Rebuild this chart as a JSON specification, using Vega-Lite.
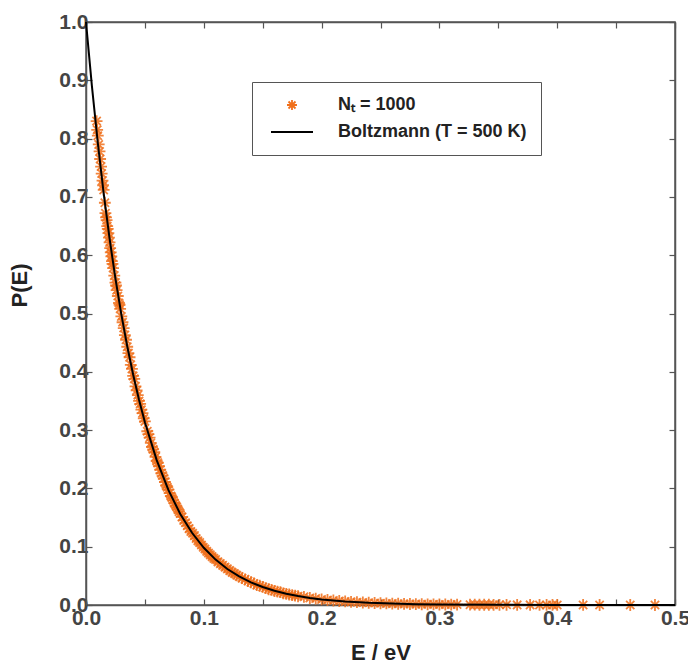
{
  "$schema": "https://vega.github.io/schema/vega-lite/v6.json",
  "autosize": {"type": "none"},
  "width": 589,
  "height": 583,
  "padding": {"left": 86, "top": 22, "right": 13, "bottom": 66},
  "background": "white",
  "config": {
    "view": {"stroke": "#555", "strokeWidth": 1.5},
    "font": "Liberation Sans",
    "axis": {"grid": false, "domainColor": "#555", "domainWidth": 1.5, "tickColor": "#555", "tickWidth": 1.2, "labelFont": "Liberation Sans", "labelFontSize": 21, "labelFontWeight": "bold", "labelColor": "#444", "titleFont": "Liberation Sans", "titleFontWeight": "bold", "titleColor": "#222", "titleFontSize": 22}
  },
  "datasets": {
    "pts": [
      {"E":0.0090,"P":0.830},{"E":0.0095,"P":0.815},{"E":0.0100,"P":0.805},{"E":0.0108,"P":0.790},{"E":0.0115,"P":0.778},{"E":0.0120,"P":0.765},{"E":0.0128,"P":0.752},{"E":0.0133,"P":0.740},{"E":0.0140,"P":0.728},{"E":0.0145,"P":0.720},{"E":0.0150,"P":0.712},{"E":0.0160,"P":0.690},{"E":0.0165,"P":0.672},{"E":0.0170,"P":0.665},{"E":0.0175,"P":0.660},{"E":0.0180,"P":0.650},{"E":0.0185,"P":0.645},{"E":0.0190,"P":0.638},{"E":0.0195,"P":0.630},{"E":0.0200,"P":0.622},{"E":0.0205,"P":0.612},{"E":0.0210,"P":0.605},{"E":0.0215,"P":0.598},{"E":0.0220,"P":0.590},{"E":0.0225,"P":0.585},{"E":0.0230,"P":0.578},{"E":0.0240,"P":0.565},{"E":0.0250,"P":0.553},{"E":0.0255,"P":0.548},{"E":0.0260,"P":0.540},{"E":0.0270,"P":0.530},{"E":0.0280,"P":0.518},{"E":0.0285,"P":0.515},{"E":0.0290,"P":0.508},{"E":0.0300,"P":0.495},{"E":0.0310,"P":0.485},{"E":0.0320,"P":0.475},{"E":0.0330,"P":0.463},{"E":0.0340,"P":0.455},{"E":0.0350,"P":0.443},{"E":0.0360,"P":0.432},{"E":0.0370,"P":0.425},{"E":0.0380,"P":0.412},{"E":0.0390,"P":0.405},{"E":0.0400,"P":0.393},{"E":0.0410,"P":0.388},{"E":0.0420,"P":0.375},{"E":0.0430,"P":0.368},{"E":0.0440,"P":0.360},{"E":0.0450,"P":0.350},{"E":0.0460,"P":0.345},{"E":0.0470,"P":0.335},{"E":0.0480,"P":0.329},{"E":0.0490,"P":0.320},{"E":0.0500,"P":0.315},
      {"E":0.052,"P":0.298},{"E":0.053,"P":0.293},{"E":0.054,"P":0.287},{"E":0.055,"P":0.278},{"E":0.056,"P":0.271},{"E":0.057,"P":0.267},{"E":0.058,"P":0.262},{"E":0.059,"P":0.254},{"E":0.060,"P":0.247},{"E":0.061,"P":0.244},{"E":0.062,"P":0.238},{"E":0.063,"P":0.232},{"E":0.064,"P":0.226},{"E":0.065,"P":0.222},{"E":0.066,"P":0.217},{"E":0.067,"P":0.211},{"E":0.068,"P":0.205},{"E":0.069,"P":0.202},{"E":0.070,"P":0.198},{"E":0.071,"P":0.192},{"E":0.072,"P":0.187},{"E":0.073,"P":0.184},{"E":0.074,"P":0.180},{"E":0.075,"P":0.175},{"E":0.076,"P":0.171},{"E":0.077,"P":0.168},{"E":0.078,"P":0.164},{"E":0.079,"P":0.160},{"E":0.080,"P":0.157},{"E":0.0815,"P":0.151},{"E":0.083,"P":0.145},{"E":0.0845,"P":0.141},{"E":0.086,"P":0.136},{"E":0.0875,"P":0.131},{"E":0.089,"P":0.126},{"E":0.0905,"P":0.123},{"E":0.092,"P":0.119},{"E":0.0935,"P":0.114},{"E":0.095,"P":0.110},{"E":0.0965,"P":0.107},{"E":0.098,"P":0.103},{"E":0.0995,"P":0.099},{"E":0.101,"P":0.096},{"E":0.1025,"P":0.092},{"E":0.104,"P":0.089},{"E":0.1055,"P":0.086},{"E":0.107,"P":0.083},{"E":0.1085,"P":0.080},{"E":0.110,"P":0.078},{"E":0.112,"P":0.074},{"E":0.114,"P":0.071},{"E":0.116,"P":0.068},{"E":0.118,"P":0.065},{"E":0.120,"P":0.062},{"E":0.122,"P":0.059},{"E":0.124,"P":0.056},{"E":0.126,"P":0.054},{"E":0.128,"P":0.051},{"E":0.130,"P":0.049},{"E":0.1325,"P":0.046},{"E":0.135,"P":0.044},{"E":0.1375,"P":0.041},{"E":0.140,"P":0.039},{"E":0.1425,"P":0.037},{"E":0.145,"P":0.034},{"E":0.1475,"P":0.033},{"E":0.150,"P":0.031},{"E":0.1525,"P":0.029},{"E":0.155,"P":0.027},{"E":0.1575,"P":0.026},{"E":0.160,"P":0.024},{"E":0.1625,"P":0.023},{"E":0.165,"P":0.022},{"E":0.1675,"P":0.020},{"E":0.170,"P":0.019},{"E":0.1725,"P":0.018},{"E":0.175,"P":0.017},{"E":0.1775,"P":0.016},{"E":0.180,"P":0.015},{"E":0.185,"P":0.014},{"E":0.190,"P":0.012},{"E":0.195,"P":0.011},{"E":0.200,"P":0.0096},
      {"E":0.205,"P":0.0086},{"E":0.210,"P":0.0077},{"E":0.215,"P":0.0068},{"E":0.220,"P":0.0061},{"E":0.225,"P":0.0054},{"E":0.230,"P":0.0048},{"E":0.235,"P":0.0043},{"E":0.240,"P":0.0038},{"E":0.245,"P":0.0034},{"E":0.250,"P":0.0030},{"E":0.255,"P":0.0027},{"E":0.260,"P":0.0024},{"E":0.265,"P":0.0021},{"E":0.270,"P":0.0019},{"E":0.275,"P":0.0017},{"E":0.280,"P":0.0015},{"E":0.285,"P":0.0013},{"E":0.290,"P":0.0012},{"E":0.295,"P":0.0011},{"E":0.300,"P":0.0009},{"E":0.305,"P":0.0008},{"E":0.310,"P":0.0007},{"E":0.315,"P":0.0007},{"E":0.326,"P":0.0005},{"E":0.330,"P":0.0005},{"E":0.334,"P":0.0004},{"E":0.338,"P":0.0004},{"E":0.342,"P":0.0004},{"E":0.346,"P":0.0003},{"E":0.351,"P":0.0003},{"E":0.357,"P":0.0003},{"E":0.366,"P":0.0002},{"E":0.377,"P":0.0002},{"E":0.385,"P":0.0001},{"E":0.391,"P":0.0001},{"E":0.396,"P":0.0001},{"E":0.400,"P":0.0001},{"E":0.422,"P":0.0001},{"E":0.436,"P":0.0000},{"E":0.462,"P":0.0000},{"E":0.483,"P":0.0000}
    ],
    "curve": [
      {"E":0,"P":1},{"E":0.005,"P":0.8904},{"E":0.01,"P":0.7929},{"E":0.015,"P":0.7060},{"E":0.02,"P":0.6287},{"E":0.025,"P":0.5598},{"E":0.03,"P":0.4985},{"E":0.035,"P":0.4439},{"E":0.04,"P":0.3953},{"E":0.045,"P":0.3519},{"E":0.05,"P":0.3134},{"E":0.06,"P":0.2485},{"E":0.07,"P":0.1970},{"E":0.08,"P":0.1562},{"E":0.09,"P":0.1239},{"E":0.1,"P":0.0982},{"E":0.11,"P":0.0779},{"E":0.12,"P":0.0617},{"E":0.13,"P":0.0490},{"E":0.14,"P":0.0388},{"E":0.15,"P":0.0308},{"E":0.16,"P":0.0244},{"E":0.17,"P":0.0193},{"E":0.18,"P":0.0153},{"E":0.19,"P":0.0122},{"E":0.2,"P":0.0096},{"E":0.22,"P":0.0061},{"E":0.24,"P":0.0038},{"E":0.26,"P":0.0024},{"E":0.28,"P":0.0015},{"E":0.3,"P":0.00095},{"E":0.35,"P":0.0003},{"E":0.4,"P":0.0001},{"E":0.45,"P":0.00003},{"E":0.5,"P":0.00001}
    ]
  },
  "layer": [
    {
      "data": {"name": "pts"},
      "mark": {"type": "point", "filled": false, "shape": "M0,-1L0,1M-1,0L1,0M-0.7,-0.7L0.7,0.7M-0.7,0.7L0.7,-0.7", "size": 140, "strokeWidth": 1.8, "opacity": 0.85},
      "encoding": {
        "x": {"field": "E", "type": "quantitative", "scale": {"domain": [0, 0.5], "nice": false},
              "axis": {"orient": "bottom", "title": "E / eV", "values": [0,0.05,0.1,0.15,0.2,0.25,0.3,0.35,0.4,0.45,0.5], "labelExpr": "abs(datum.value*10 - round(datum.value*10)) < 0.01 ? format(datum.value, '.1f') : ''", "tickSize": -6, "labelPadding": 8, "titlePadding": 14, "labelFlush": false}},
        "y": {"field": "P", "type": "quantitative", "scale": {"domain": [0, 1], "nice": false},
              "axis": {"orient": "left", "title": "P(E)", "values": [0,0.1,0.2,0.3,0.4,0.5,0.6,0.7,0.8,0.9,1.0], "format": ".1f", "tickSize": -6, "labelPadding": 4, "titleAngle": -90, "titleX": -55, "titleY": 263, "labelFlush": false}},
        "color": {"datum": "Nₜ = 1000", "type": "nominal",
                  "scale": {"domain": ["Nₜ = 1000", "Boltzmann (T = 500 K)"], "range": ["#f0701c", "#000000"]},
                  "legend": {"orient": "none", "legendX": 166, "legendY": 60, "title": null, "strokeColor": "#555", "fillColor": "white", "padding": 14,
                             "labelFont": "Liberation Sans", "labelFontSize": 18, "labelFontWeight": "bold", "labelColor": "#222", "labelLimit": 400,
                             "symbolSize": 100, "symbolOffset": 17, "labelOffset": 37, "rowPadding": 9,
                             "encode": {"symbols": {"update": {
                               "shape": {"signal": "datum.value === 'Boltzmann (T = 500 K)' ? 'M-4.2,0L4.2,0' : 'M0,-1L0,1M-1,0L1,0M-0.7,-0.7L0.7,0.7M-0.7,0.7L0.7,-0.7'"},
                               "stroke": {"signal": "datum.value === 'Boltzmann (T = 500 K)' ? '#000000' : '#f0701c'"},
                               "strokeWidth": {"signal": "datum.value === 'Boltzmann (T = 500 K)' ? 2 : 1.8"},
                               "fill": {"value": "transparent"},
                               "size": {"value": 100},
                               "opacity": {"value": 1}
                             }}}}}
      }
    },
    {
      "data": {"name": "curve"},
      "mark": {"type": "line", "strokeWidth": 2, "interpolate": "linear"},
      "encoding": {
        "x": {"field": "E", "type": "quantitative", "axis": {"orient": "top", "title": null, "labels": false, "values": [0,0.05,0.1,0.15,0.2,0.25,0.3,0.35,0.4,0.45,0.5], "tickSize": -6}},
        "y": {"field": "P", "type": "quantitative", "axis": {"orient": "right", "title": null, "labels": false, "values": [0,0.1,0.2,0.3,0.4,0.5,0.6,0.7,0.8,0.9,1.0], "tickSize": -6}},
        "color": {"datum": "Boltzmann (T = 500 K)", "type": "nominal",
                  "legend": {"orient": "none", "legendX": 166, "legendY": 60, "title": null, "strokeColor": "#555", "fillColor": "white", "padding": 14,
                             "labelFont": "Liberation Sans", "labelFontSize": 18, "labelFontWeight": "bold", "labelColor": "#222", "labelLimit": 400,
                             "symbolSize": 100, "symbolOffset": 17, "labelOffset": 37, "rowPadding": 9,
                             "encode": {"symbols": {"update": {
                               "shape": {"signal": "datum.value === 'Boltzmann (T = 500 K)' ? 'M-4.2,0L4.2,0' : 'M0,-1L0,1M-1,0L1,0M-0.7,-0.7L0.7,0.7M-0.7,0.7L0.7,-0.7'"},
                               "stroke": {"signal": "datum.value === 'Boltzmann (T = 500 K)' ? '#000000' : '#f0701c'"},
                               "strokeWidth": {"signal": "datum.value === 'Boltzmann (T = 500 K)' ? 2 : 1.8"},
                               "fill": {"value": "transparent"},
                               "size": {"value": 100},
                               "opacity": {"value": 1}
                             }}}}}
      }
    }
  ],
  "resolve": {"axis": {"x": "independent", "y": "independent"}}
}
